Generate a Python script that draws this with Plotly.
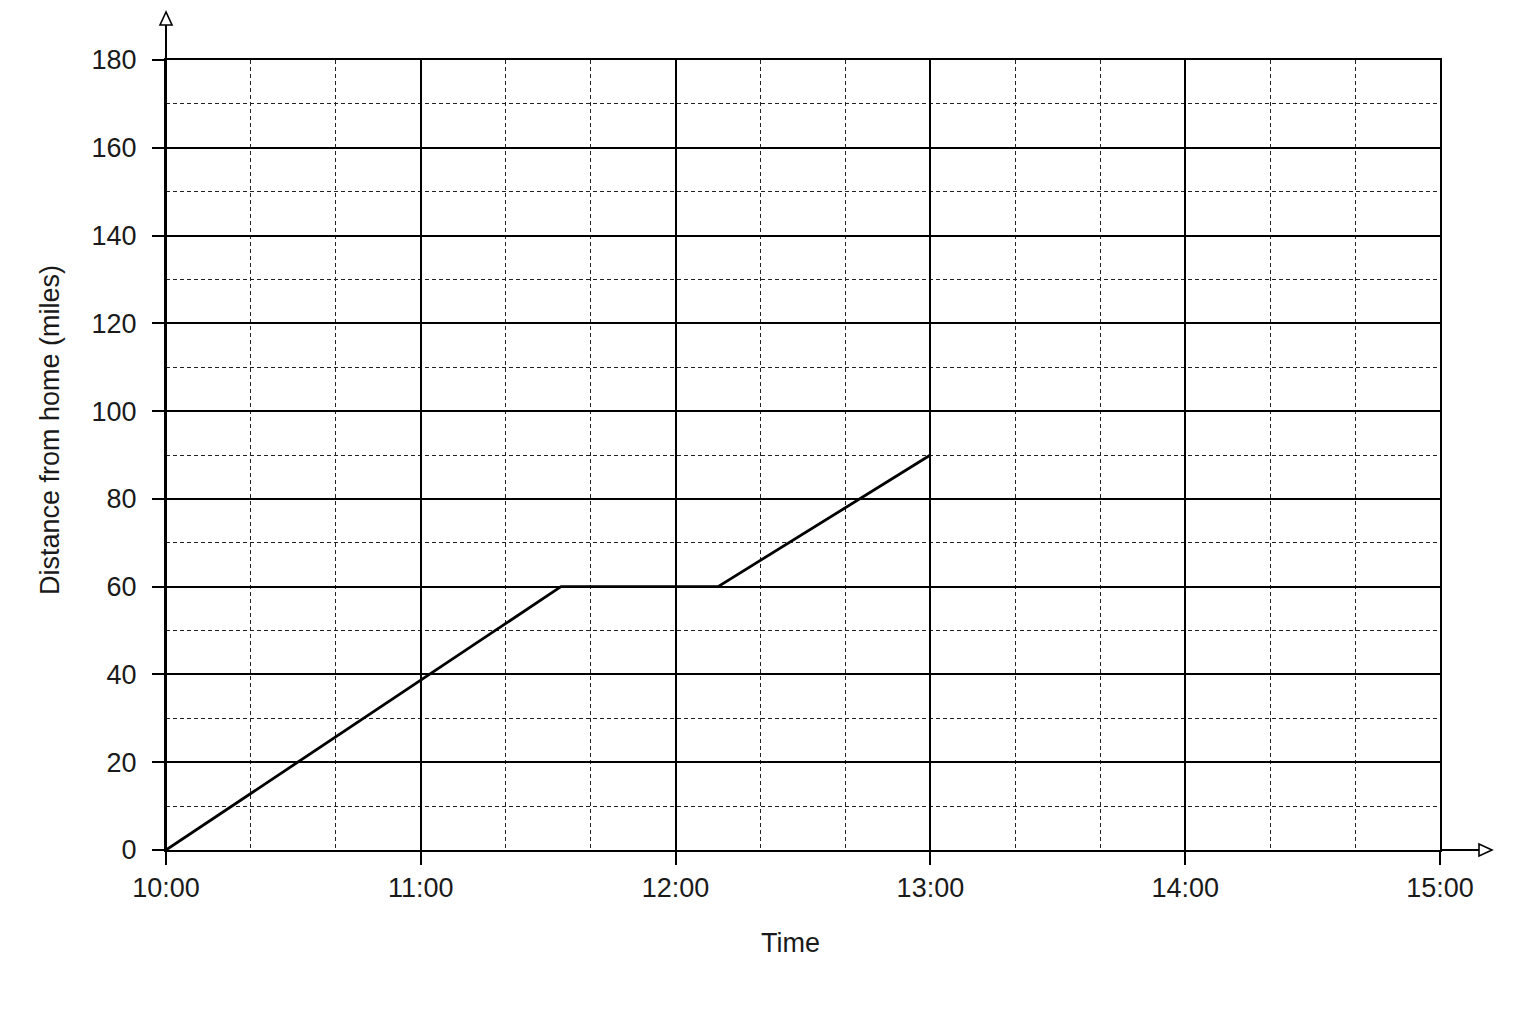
import plotly.graph_objects as go

# journey data
times = ["2024-01-01 10:00", "2024-01-01 11:33", "2024-01-01 12:10", "2024-01-01 13:00"]
distance = [0, 60, 60, 90]

x_range = ["2024-01-01 10:00", "2024-01-01 15:00"]
y_range = [0, 180]

W, H = 1536, 1024
OFF = 8  # page body margin
# target plot box in screen pixels: left 166, right 1440, top 60, bottom 850
L, R, T, B = 166 - OFF, W + OFF - 1440, 60 - OFF, H + OFF - 850
pw, ph = 1440 - 166, 850 - 60


def px(x, y):
    # screen pixel position -> paper coords
    return (x - 166) / pw, (850 - y) / ph


font = dict(family="Liberation Sans, Arial, sans-serif", size=27, color="#1a1a1a")

fig = go.Figure()
fig.add_trace(go.Scatter(x=times, y=distance, mode="lines",
                         line=dict(color="black", width=2.8), showlegend=False))

shapes = []
# axis extensions with open arrowheads
x0, y0 = px(166, 850)
x1, y1 = px(166, 24)
shapes.append(dict(type="line", xref="paper", yref="paper", x0=x0, y0=y0, x1=x1, y1=y1,
                   line=dict(color="black", width=2)))
ax, ay = px(166, 12)
bx, by = px(160, 25)
cx, cy = px(172, 25)
shapes.append(dict(type="path", xref="paper", yref="paper",
                   path=f"M {ax} {ay} L {bx} {by} L {cx} {cy} Z",
                   line=dict(color="black", width=1.6), fillcolor="white"))
x0, y0 = px(1440, 850)
x1, y1 = px(1480, 850)
shapes.append(dict(type="line", xref="paper", yref="paper", x0=x0, y0=y0, x1=x1, y1=y1,
                   line=dict(color="black", width=2)))
ax, ay = px(1492, 850)
bx, by = px(1479, 844)
cx, cy = px(1479, 856)
shapes.append(dict(type="path", xref="paper", yref="paper",
                   path=f"M {ax} {ay} L {bx} {by} L {cx} {cy} Z",
                   line=dict(color="black", width=1.6), fillcolor="white"))

# axis titles as annotations to match their placement
tx, ty = px(790, 943)
yx, yy = px(50, 430)
annotations = [
    dict(text="Time", xref="paper", yref="paper", x=tx, y=ty, showarrow=False,
         xanchor="center", yanchor="middle", font=font),
    dict(text="Distance from home (miles)", xref="paper", yref="paper", x=yx, y=yy,
         showarrow=False, textangle=-90, xanchor="center", yanchor="middle", font=font),
]

fig.update_layout(
    width=W, height=H,
    margin=dict(l=L, r=R, t=T, b=B, autoexpand=False),
    paper_bgcolor="white", plot_bgcolor="white",
    font=font,
    shapes=shapes,
    annotations=annotations,
    xaxis=dict(
        type="date", range=x_range, dtick=3600000, tickformat="%H:%M",
        showgrid=True, gridcolor="black", gridwidth=1.5,
        showline=True, linecolor="black", linewidth=2, mirror=True,
        ticks="outside", ticklen=13, tickwidth=1.6, tickcolor="black",
        zeroline=False, fixedrange=True,
        minor=dict(dtick=1200000, showgrid=True, gridcolor="#222",
                   gridwidth=1, griddash="4px,3px", ticks=""),
    ),
    yaxis=dict(
        range=y_range, dtick=20,
        showgrid=True, gridcolor="black", gridwidth=1.5,
        showline=True, linecolor="black", linewidth=2, mirror=True,
        ticks="outside", ticklen=12, tickwidth=1.6, tickcolor="black",
        ticklabelstandoff=10,
        zeroline=False, fixedrange=True,
        minor=dict(dtick=10, showgrid=True, gridcolor="#222",
                   gridwidth=1, griddash="4px,3px", ticks=""),
    ),
)

fig.write_html("out.html")
